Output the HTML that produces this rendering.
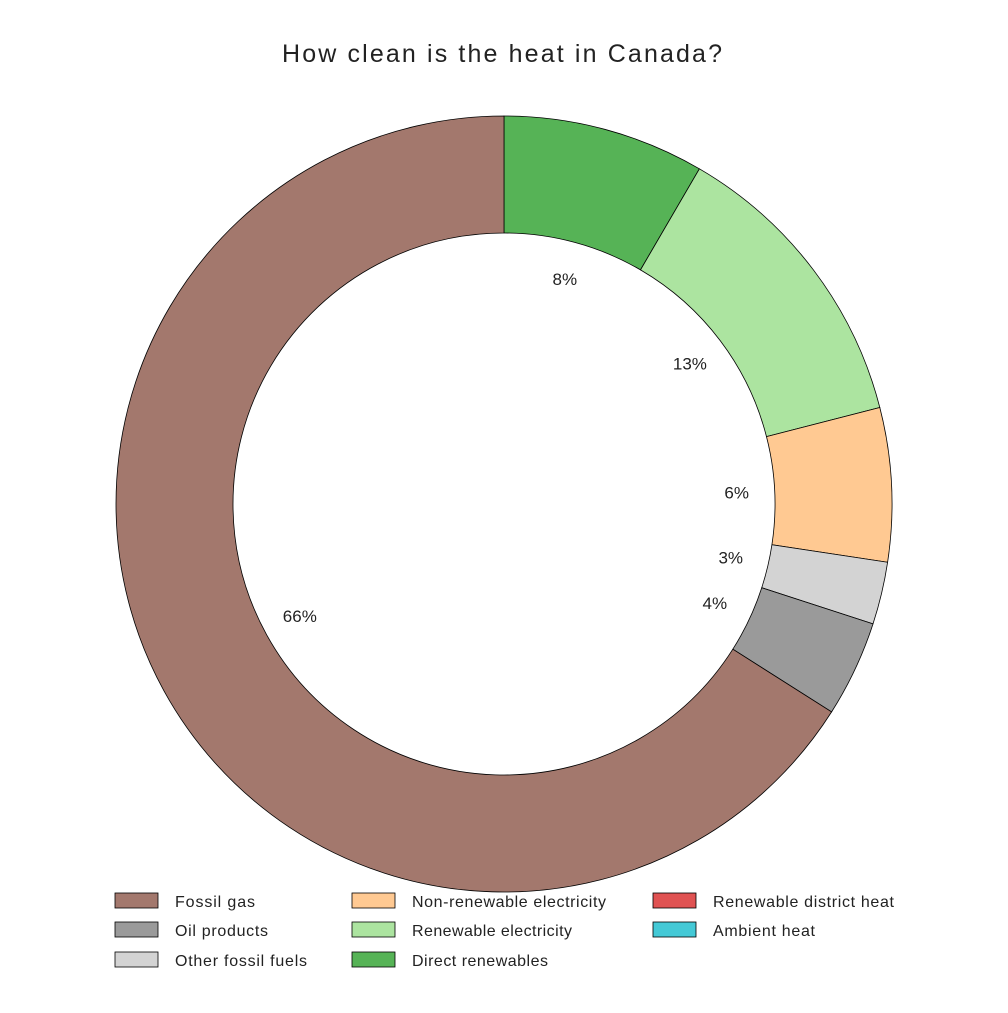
<!DOCTYPE html>
<html><head><meta charset="utf-8"><style>
html,body{margin:0;padding:0;background:#fff;}
svg text{font-family:"Liberation Sans Narrow","Liberation Sans",sans-serif;fill:#222;}
</style></head><body>
<svg id="chart" width="1008" height="1008" viewBox="0 0 1008 1008">
<text x="282" y="62" font-size="25" textLength="440" lengthAdjust="spacing">How clean is the heat in Canada?</text>
<g id="slices"></g>
<g id="labels"></g>
<g id="legend"></g>
</svg>
<script>
const categories = ["Direct renewables","Renewable electricity","Non-renewable electricity","Other fossil fuels","Oil products","Fossil gas"];
const values = [8.4, 12.6, 6.4, 2.6, 4.0, 66.0];
const valueLabels = ["8%","13%","6%","3%","4%","66%"];
const colors = ["#56b356","#ace4a0","#ffc992","#d3d3d3","#9a9a9a","#a3786d"];
const legendNames = ["Fossil gas","Oil products","Other fossil fuels","Non-renewable electricity","Renewable electricity","Direct renewables","Renewable district heat","Ambient heat"];
const legendColors = ["#a3786d","#9a9a9a","#d3d3d3","#ffc992","#ace4a0","#56b356","#e05252","#44c9d6"];
const legendWidths = [80,93,132,194,160,136,181,102];

const NS="http://www.w3.org/2000/svg";
const cx=504, cy=504, R=388, r=271, LR=233;
const total=values.reduce((a,b)=>a+b,0);
function pt(rad,frac){const a=frac*2*Math.PI;return [cx+rad*Math.sin(a),cy-rad*Math.cos(a)];}
let acc=0;
const sg=document.getElementById('slices'), lg=document.getElementById('labels');
values.forEach((v,i)=>{
  const f0=acc/total, f1=(acc+v)/total; acc+=v;
  const large=(f1-f0)>0.5?1:0;
  const [x0,y0]=pt(R,f0),[x1,y1]=pt(R,f1),[x2,y2]=pt(r,f1),[x3,y3]=pt(r,f0);
  const p=document.createElementNS(NS,'path');
  p.setAttribute('d',`M${x0},${y0} A${R},${R} 0 ${large} 1 ${x1},${y1} L${x2},${y2} A${r},${r} 0 ${large} 0 ${x3},${y3} Z`);
  p.setAttribute('fill',colors[i]);p.setAttribute('stroke','#000');p.setAttribute('stroke-width','0.8');
  
  
  sg.appendChild(p);
  const [lx,ly]=pt(LR,(f0+f1)/2);
  const t=document.createElementNS(NS,'text');
  t.setAttribute('x',lx);t.setAttribute('y',ly+6);t.setAttribute('text-anchor','middle');t.setAttribute('font-size','17');
  t.textContent=valueLabels[i];
  
  
  lg.appendChild(t);
});
const leg=document.getElementById('legend');
const colX=[115,352,653], rowY=[901,930,960];
legendNames.forEach((n,i)=>{
  const c=Math.floor(i/3), rw=i%3;
  const g=document.createElementNS(NS,'g');
  
  
  const b=document.createElementNS(NS,'rect');
  b.setAttribute('x',colX[c]);b.setAttribute('y',rowY[rw]-8);b.setAttribute('width',43);b.setAttribute('height',15);
  b.setAttribute('fill',legendColors[i]);b.setAttribute('stroke','#000');b.setAttribute('stroke-width','0.8');
  g.appendChild(b);
  const t=document.createElementNS(NS,'text');
  t.setAttribute('x',colX[c]+60);t.setAttribute('y',rowY[rw]+6);t.setAttribute('font-size','16');
  t.setAttribute('textLength',legendWidths[i]);t.setAttribute('lengthAdjust','spacing');
  t.textContent=n;
  g.appendChild(t);
  leg.appendChild(g);
});
</script>
</body></html>
